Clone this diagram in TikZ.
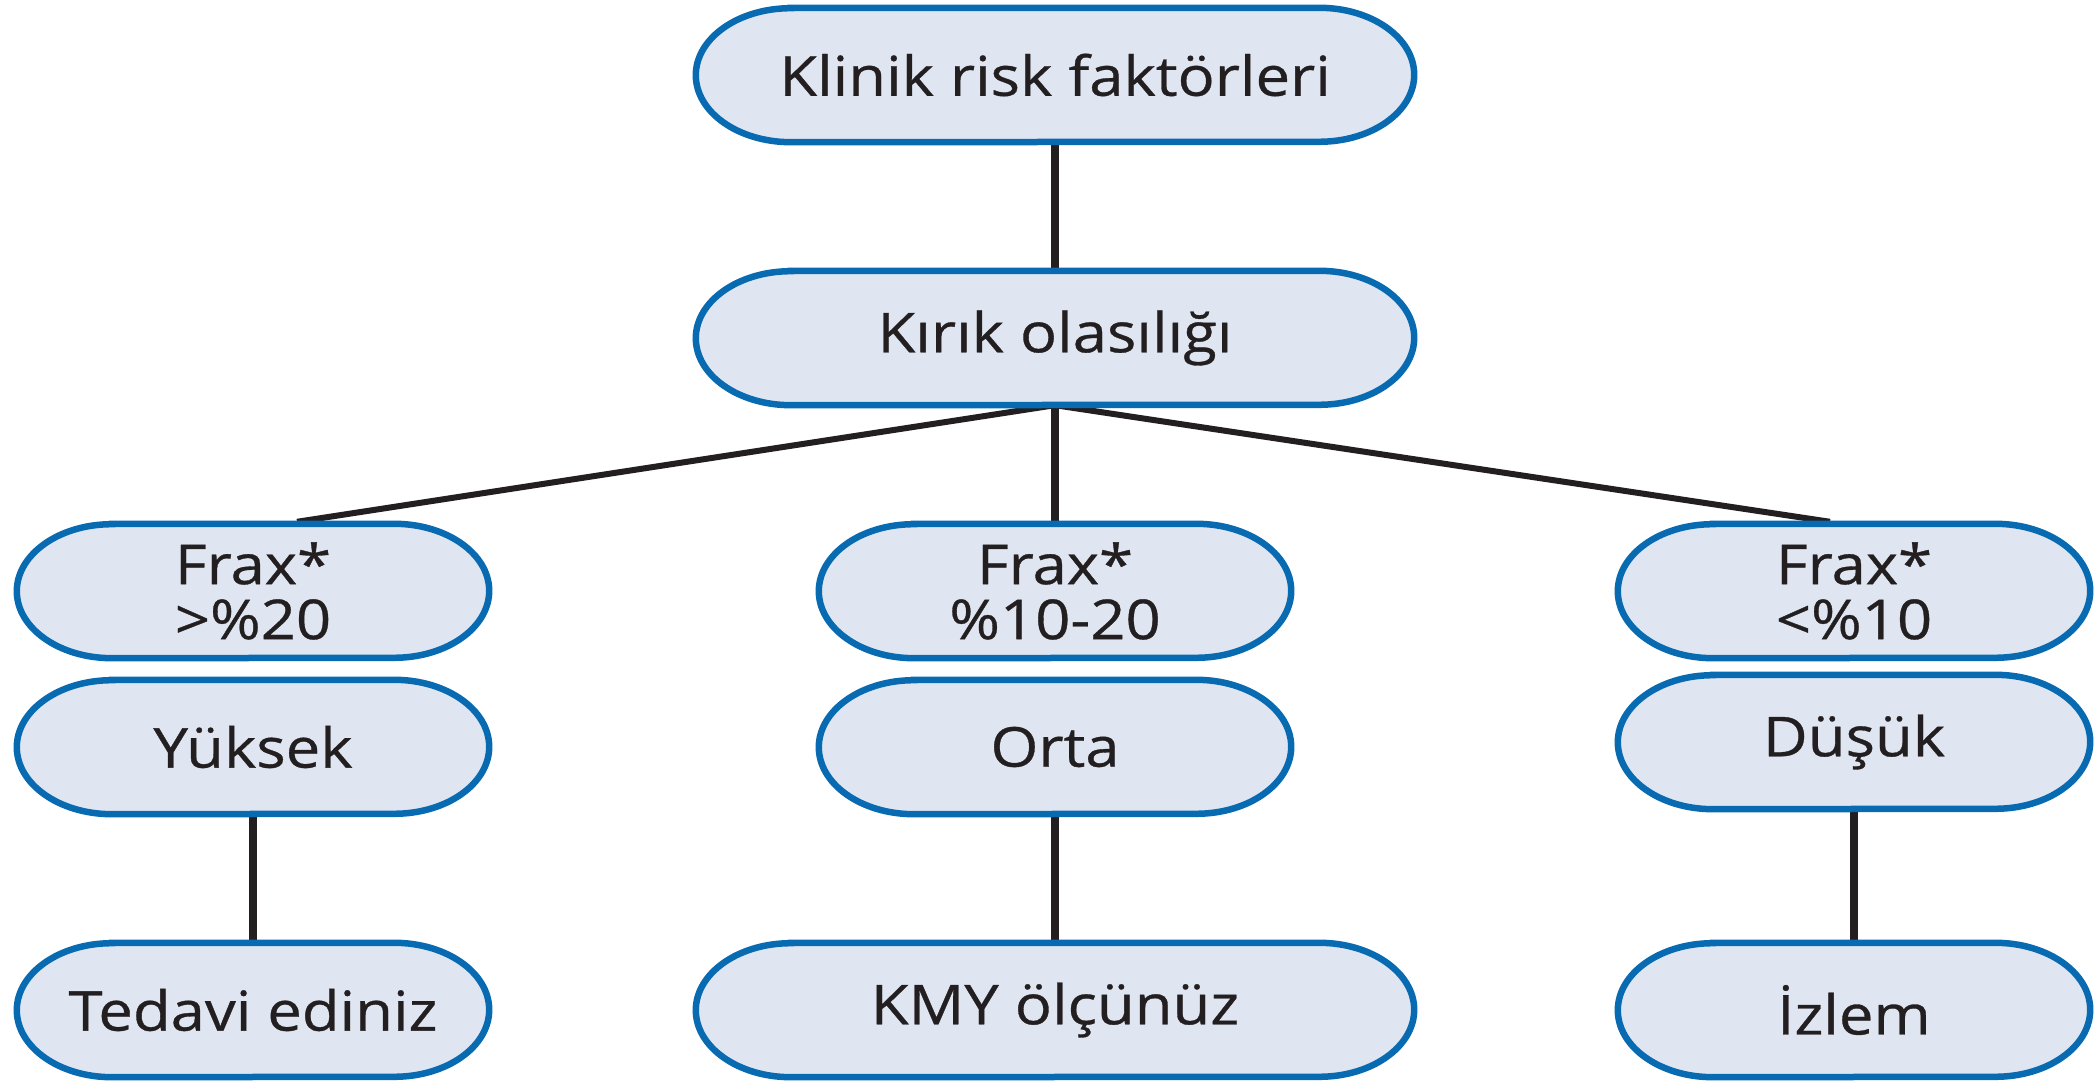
\documentclass[tikz,border=0pt]{standalone}
\usepackage{fontspec}
\setmainfont{Open Sans}[FakeStretch=1.12,FakeBold=0.6]
\usetikzlibrary{backgrounds}
\definecolor{pillfill}{HTML}{DFE6F2}
\definecolor{pillborder}{HTML}{086BB2}
\definecolor{inkc}{HTML}{231F20}
\newcommand\pillshape[1]{%
  \fill[pillfill] ([xshift=95pt]#1.north west) -- ([xshift=-95pt]#1.north east)
    arc[start angle=90,end angle=-90,x radius=95pt,y radius=67pt]
    -- ([xshift=95pt]#1.south west)
    arc[start angle=270,end angle=90,x radius=95pt,y radius=67pt] -- cycle;
  \draw[pillborder,line width=6.5pt] ([xshift=95pt]#1.north west) -- ([xshift=-95pt]#1.north east)
    arc[start angle=90,end angle=-90,x radius=95pt,y radius=67pt]
    -- ([xshift=95pt]#1.south west)
    arc[start angle=270,end angle=90,x radius=95pt,y radius=67pt] -- cycle;}
\begin{document}
\begin{tikzpicture}[x=1pt,y=1pt,
  box/.style={rectangle,minimum height=134pt,inner sep=0pt,text=inkc,
    font=\fontsize{55}{55}\selectfont,align=center},
  wide/.style={box,minimum width=718pt},
  narrow/.style={box,minimum width=472pt},
  link/.style={draw=inkc,line width=8pt},
  slant/.style={draw=inkc,line width=6pt}]
\useasboundingbox (0,0) rectangle (2098,1081);
\node[wide]   (top)    at (1055,1006) {Klinik risk faktörleri};
\node[wide]   (kirik)  at (1055,743)  {Kırık olasılığı};
\node[narrow] (fraxL)  at (253,490)   {Frax*\\>\%20};
\node[narrow] (fraxM)  at (1055,490)  {Frax*\\\%10-20};
\node[narrow] (fraxR)  at (1854,490)  {Frax*\\<\%10};
\node[narrow] (yuksek) at (253,334)   {Yüksek};
\node[narrow] (orta)   at (1055,334)  {Orta};
\node[narrow] (dusuk)  at (1854,339)  {Düşük};
\node[narrow] (tedavi) at (253,71)    {Tedavi ediniz};
\node[wide]   (kmy)    at (1055,71)   {KMY ölçünüz};
\node[narrow] (izlem)  at (1854,71)   {İzlem};
\begin{scope}[on background layer]
  \draw[link] (top.south) -- (kirik.north);
  \draw[slant] (kirik.south) -- ([xshift=44pt,yshift=2pt]fraxL.north);
  \draw[link] (kirik.south) -- (fraxM.north);
  \draw[slant] (kirik.south) -- ([xshift=-24pt,yshift=2pt]fraxR.north);
  \draw[link] (yuksek.south) -- (tedavi.north);
  \draw[link] (orta.south) -- (kmy.north);
  \draw[link] (dusuk.south) -- (izlem.north);
  \foreach \n in {top,kirik,fraxL,fraxM,fraxR,yuksek,orta,dusuk,tedavi,kmy,izlem}{\pillshape{\n}}
\end{scope}
\end{tikzpicture}
\end{document}
